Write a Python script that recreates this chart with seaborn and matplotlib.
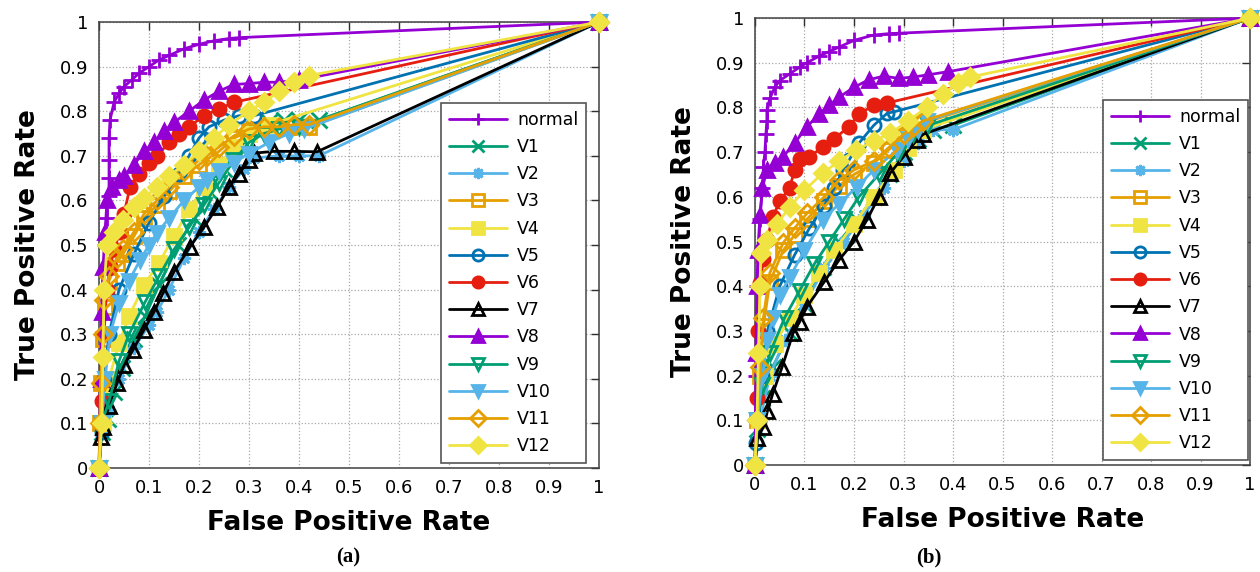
import pandas as pd
import seaborn as sns
import matplotlib.pyplot as plt

sns.set_style("white")
plt.rcParams['font.family'] = ['DejaVu Sans']
plt.rcParams['text.color'] = 'black'
plt.rcParams['axes.labelcolor'] = 'black'

# series names, colours and marker styles (gnuplot-like defaults)
series = ['normal', 'V1', 'V2', 'V3', 'V4', 'V5', 'V6', 'V7', 'V8', 'V9', 'V10', 'V11', 'V12']
colors = ['#9400D3', '#009E73', '#56B4E9', '#E69F00', '#F0E442', '#0072B2', '#E51E10',
          '#000000', '#9400D3', '#009E73', '#56B4E9', '#E69F00', '#F0E442']
markers = ['+', 'x', (8, 2, 0), 's', 's', 'o', 'o', '^', '^', 'v', 'v', 'D', 'D']
filled = [True, True, True, False, True, False, True, False, True, False, True, False, True]

ticks = [0, 0.1, 0.2, 0.3, 0.4, 0.5, 0.6, 0.7, 0.8, 0.9, 1]
tick_labels = ['0', '0.1', '0.2', '0.3', '0.4', '0.5', '0.6', '0.7', '0.8', '0.9', '1']

# ---- panel (a): (FPR, TPR) points ----
a_normal = [(0, 0), (0.005, 0.2), (0.008, 0.4), (0.012, 0.5), (0.015, 0.56), (0.02, 0.61), (0.02, 0.65),
            (0.02, 0.69), (0.02, 0.74), (0.022, 0.78), (0.03, 0.82), (0.04, 0.84), (0.05, 0.855),
            (0.065, 0.87), (0.08, 0.885), (0.1, 0.9), (0.12, 0.915), (0.14, 0.925), (0.17, 0.94),
            (0.2, 0.95), (0.23, 0.958), (0.26, 0.963), (0.28, 0.965), (1, 1)]
a_v1 = [(0, 0), (0.005, 0.08), (0.018, 0.11), (0.03, 0.17), (0.046, 0.224), (0.07, 0.29), (0.092, 0.34),
        (0.12, 0.41), (0.158, 0.5), (0.19, 0.56), (0.22, 0.62), (0.25, 0.67), (0.28, 0.72), (0.31, 0.76),
        (0.34, 0.775), (0.37, 0.78), (0.4, 0.78), (0.44, 0.78), (1, 1)]
a_v2 = [(0, 0), (0.005, 0.08), (0.02, 0.13), (0.04, 0.2), (0.07, 0.27), (0.1, 0.32), (0.116, 0.35),
        (0.14, 0.4), (0.17, 0.47), (0.2, 0.53), (0.23, 0.58), (0.26, 0.63), (0.29, 0.67), (0.31, 0.695),
        (0.36, 0.7), (0.4, 0.7), (0.44, 0.7), (1, 1)]
a_v3 = [(0, 0), (0.002, 0.1), (0.003, 0.19), (0.008, 0.29), (0.012, 0.36), (0.02, 0.42), (0.035, 0.46),
        (0.048, 0.48), (0.07, 0.52), (0.09, 0.56), (0.116, 0.59), (0.14, 0.62), (0.17, 0.655), (0.2, 0.68),
        (0.24, 0.71), (0.27, 0.74), (0.3, 0.755), (0.34, 0.76), (0.38, 0.765), (0.42, 0.765), (1, 1)]
a_v4 = [(0, 0), (0.008, 0.1), (0.02, 0.2), (0.04, 0.28), (0.06, 0.34), (0.09, 0.41), (0.12, 0.46),
        (0.15, 0.52), (0.18, 0.58), (0.21, 0.63), (0.24, 0.68), (0.27, 0.72), (0.3, 0.75), (0.34, 0.77), (1, 1)]
a_v5 = [(0, 0), (0.005, 0.08), (0.01, 0.2), (0.02, 0.3), (0.04, 0.4), (0.07, 0.48), (0.1, 0.55),
        (0.13, 0.61), (0.16, 0.66), (0.18, 0.7), (0.2, 0.74), (0.22, 0.765), (0.25, 0.78), (0.28, 0.79),
        (0.31, 0.79), (1, 1)]
a_v6 = [(0, 0), (0.005, 0.15), (0.01, 0.3), (0.015, 0.4), (0.022, 0.45), (0.03, 0.49), (0.042, 0.53),
        (0.05, 0.57), (0.062, 0.63), (0.08, 0.66), (0.1, 0.685), (0.116, 0.7), (0.14, 0.73), (0.16, 0.75),
        (0.18, 0.765), (0.21, 0.79), (0.24, 0.805), (0.27, 0.82), (1, 1)]
a_v7 = [(0, 0), (0.004, 0.07), (0.008, 0.092), (0.02, 0.14), (0.036, 0.19), (0.05, 0.23), (0.068, 0.265),
        (0.09, 0.31), (0.11, 0.35), (0.128, 0.392), (0.15, 0.44), (0.182, 0.496), (0.21, 0.54),
        (0.236, 0.585), (0.26, 0.63), (0.28, 0.66), (0.3, 0.69), (0.31, 0.706), (0.35, 0.71),
        (0.39, 0.71), (0.436, 0.709), (1, 1)]
a_v8 = [(0, 0), (0.003, 0.2), (0.005, 0.35), (0.008, 0.45), (0.012, 0.53), (0.016, 0.6), (0.025, 0.63),
        (0.04, 0.645), (0.05, 0.655), (0.07, 0.68), (0.09, 0.71), (0.11, 0.73), (0.13, 0.755),
        (0.15, 0.775), (0.18, 0.8), (0.21, 0.825), (0.24, 0.845), (0.27, 0.86), (0.3, 0.862),
        (0.33, 0.865), (0.36, 0.865), (0.4, 0.87), (1, 1)]
a_v9 = [(0, 0), (0.005, 0.1), (0.02, 0.15), (0.04, 0.24), (0.06, 0.3), (0.092, 0.372), (0.12, 0.43),
        (0.15, 0.49), (0.18, 0.54), (0.21, 0.59), (0.24, 0.64), (0.27, 0.69), (0.3, 0.73), (0.33, 0.75),
        (0.36, 0.76), (0.4, 0.765), (1, 1)]
a_v10 = [(0, 0), (0.005, 0.1), (0.012, 0.2), (0.022, 0.3), (0.04, 0.37), (0.06, 0.42), (0.082, 0.466),
         (0.1, 0.5), (0.116, 0.527), (0.14, 0.56), (0.17, 0.6), (0.2, 0.63), (0.216, 0.645), (0.24, 0.665),
         (0.27, 0.685), (0.3, 0.705), (0.34, 0.73), (0.38, 0.75), (0.41, 0.76), (1, 1)]
a_v11 = [(0, 0), (0.002, 0.1), (0.003, 0.19), (0.008, 0.3), (0.01, 0.377), (0.02, 0.43), (0.035, 0.47),
         (0.048, 0.49), (0.07, 0.53), (0.09, 0.57), (0.116, 0.6), (0.14, 0.63), (0.17, 0.665), (0.2, 0.69),
         (0.216, 0.7), (0.24, 0.72), (0.27, 0.745), (0.3, 0.76), (0.33, 0.765), (0.36, 0.765),
         (0.39, 0.77), (0.42, 0.77), (1, 1)]
a_v12 = [(0, 0), (0.005, 0.1), (0.008, 0.25), (0.01, 0.4), (0.016, 0.5), (0.03, 0.53), (0.048, 0.556),
         (0.07, 0.585), (0.09, 0.605), (0.116, 0.63), (0.14, 0.655), (0.17, 0.68), (0.2, 0.71),
         (0.23, 0.74), (0.26, 0.77), (0.3, 0.8), (0.33, 0.82), (0.36, 0.845), (0.39, 0.865), (0.42, 0.88), (1, 1)]

# ---- panel (b) ----
b_normal = [(0, 0), (0.003, 0.2), (0.005, 0.4), (0.01, 0.55), (0.015, 0.62), (0.017, 0.667), (0.02, 0.7),
            (0.022, 0.74), (0.024, 0.77), (0.024, 0.794), (0.03, 0.82), (0.04, 0.845), (0.05, 0.86),
            (0.07, 0.875), (0.09, 0.89), (0.105, 0.9), (0.13, 0.915), (0.15, 0.925), (0.17, 0.935),
            (0.2, 0.95), (0.24, 0.962), (0.27, 0.965), (0.29, 0.966), (1, 1)]
b_v1 = [(0, 0), (0.005, 0.08), (0.015, 0.15), (0.036, 0.22), (0.07, 0.295), (0.1, 0.36), (0.137, 0.443),
        (0.17, 0.5), (0.206, 0.548), (0.24, 0.6), (0.27, 0.65), (0.3, 0.7), (0.33, 0.73), (0.36, 0.75),
        (0.4, 0.76), (1, 1)]
b_v2 = [(0, 0), (0.01, 0.1), (0.03, 0.2), (0.06, 0.28), (0.1, 0.36), (0.14, 0.44), (0.18, 0.5),
        (0.22, 0.56), (0.26, 0.62), (0.3, 0.68), (0.33, 0.72), (0.36, 0.75), (0.4, 0.75), (1, 1)]
b_v3 = [(0, 0), (0.004, 0.1), (0.01, 0.2), (0.017, 0.31), (0.03, 0.41), (0.057, 0.48), (0.08, 0.515),
        (0.105, 0.55), (0.14, 0.59), (0.17, 0.625), (0.2, 0.65), (0.24, 0.675), (0.27, 0.705),
        (0.3, 0.735), (0.32, 0.75), (0.34, 0.765), (1, 1)]
b_v4 = [(0, 0), (0.008, 0.1), (0.02, 0.2), (0.04, 0.27), (0.07, 0.33), (0.1, 0.38), (0.13, 0.43),
        (0.16, 0.48), (0.2, 0.54), (0.24, 0.6), (0.28, 0.66), (0.31, 0.71), (0.34, 0.75), (1, 1)]
b_v5 = [(0, 0), (0.003, 0.05), (0.008, 0.1), (0.015, 0.2), (0.025, 0.3), (0.05, 0.4), (0.08, 0.47),
        (0.11, 0.53), (0.14, 0.58), (0.16, 0.62), (0.178, 0.66), (0.19, 0.682), (0.21, 0.72),
        (0.24, 0.76), (0.267, 0.787), (0.28, 0.79), (1, 1)]
b_v6 = [(0, 0), (0.004, 0.15), (0.007, 0.3), (0.01, 0.407), (0.017, 0.46), (0.024, 0.503), (0.036, 0.555),
        (0.05, 0.59), (0.07, 0.62), (0.08, 0.66), (0.09, 0.685), (0.11, 0.69), (0.137, 0.711),
        (0.16, 0.73), (0.19, 0.757), (0.21, 0.785), (0.24, 0.805), (0.267, 0.81), (1, 1)]
b_v7 = [(0, 0), (0.005, 0.06), (0.017, 0.085), (0.025, 0.12), (0.036, 0.16), (0.055, 0.22), (0.077, 0.295),
        (0.09, 0.32), (0.105, 0.354), (0.14, 0.41), (0.17, 0.459), (0.2, 0.5), (0.226, 0.548),
        (0.25, 0.6), (0.273, 0.653), (0.3, 0.69), (0.327, 0.727), (0.34, 0.74), (1, 1)]
b_v8 = [(0, 0), (0.002, 0.25), (0.004, 0.4), (0.006, 0.48), (0.01, 0.56), (0.015, 0.62), (0.024, 0.66),
        (0.04, 0.675), (0.057, 0.69), (0.08, 0.72), (0.105, 0.757), (0.13, 0.785), (0.15, 0.805),
        (0.17, 0.823), (0.2, 0.845), (0.23, 0.862), (0.26, 0.87), (0.29, 0.865), (0.32, 0.868),
        (0.35, 0.873), (0.39, 0.88), (1, 1)]
b_v9 = [(0, 0), (0.005, 0.1), (0.015, 0.18), (0.03, 0.25), (0.06, 0.33), (0.09, 0.39), (0.12, 0.45),
        (0.15, 0.5), (0.18, 0.55), (0.21, 0.6), (0.25, 0.65), (0.29, 0.7), (0.32, 0.74), (0.35, 0.76), (1, 1)]
b_v10 = [(0, 0), (0.005, 0.1), (0.015, 0.2), (0.025, 0.28), (0.036, 0.33), (0.05, 0.38), (0.07, 0.42),
         (0.1, 0.48), (0.137, 0.548), (0.17, 0.585), (0.206, 0.622), (0.24, 0.66), (0.287, 0.705),
         (0.31, 0.73), (0.33, 0.75), (0.347, 0.77), (1, 1)]
b_v11 = [(0, 0), (0.004, 0.1), (0.01, 0.22), (0.017, 0.33), (0.03, 0.43), (0.057, 0.497), (0.08, 0.53),
         (0.105, 0.563), (0.14, 0.6), (0.17, 0.638), (0.2, 0.66), (0.24, 0.68), (0.27, 0.71),
         (0.3, 0.74), (0.32, 0.757), (0.34, 0.77), (1, 1)]
b_v12 = [(0, 0), (0.004, 0.1), (0.007, 0.25), (0.01, 0.4), (0.012, 0.474), (0.024, 0.503), (0.045, 0.54),
         (0.07, 0.577), (0.1, 0.615), (0.137, 0.653), (0.17, 0.68), (0.205, 0.705), (0.24, 0.725),
         (0.273, 0.742), (0.31, 0.77), (0.347, 0.8), (0.38, 0.83), (0.41, 0.855), (0.435, 0.868), (1, 1)]

curves_a = [a_normal, a_v1, a_v2, a_v3, a_v4, a_v5, a_v6, a_v7, a_v8, a_v9, a_v10, a_v11, a_v12]
curves_b = [b_normal, b_v1, b_v2, b_v3, b_v4, b_v5, b_v6, b_v7, b_v8, b_v9, b_v10, b_v11, b_v12]


def draw_panel(ax, curves, anchor):
    for name, pts, c, m, f in zip(series, curves, colors, markers, filled):
        df = pd.DataFrame(pts, columns=['fpr', 'tpr'])
        ms = 11 if m in ('+', 'x') else 9.5
        sns.lineplot(data=df, x='fpr', y='tpr', ax=ax, sort=False, estimator=None, legend=False,
                     color=c, linewidth=2.0, marker=m, markersize=ms,
                     markerfacecolor=c if f else 'none', markeredgecolor=c, markeredgewidth=2.0,
                     label=name, clip_on=False, zorder=3)
    ax.set_xlim(0, 1)
    ax.set_ylim(0, 1)
    ax.set_xticks(ticks, tick_labels)
    ax.set_yticks(ticks, tick_labels)
    ax.tick_params(direction='in', top=True, right=True, length=6, width=1, pad=8,
                   labelsize=13, color='#303030', labelcolor='black')
    ax.grid(True, linestyle=':', color='#a8a8a8', linewidth=0.9)
    ax.set_axisbelow(True)
    for sp in ax.spines.values():
        sp.set_color('#404040')
        sp.set_linewidth(1.1)
    ax.set_xlabel('False Positive Rate', fontsize=19, fontweight='bold', labelpad=9, color='black')
    ax.set_ylabel('True Positive Rate', fontsize=19, fontweight='bold', labelpad=13, color='black')
    leg = ax.legend(loc='lower right', bbox_to_anchor=anchor, borderaxespad=0, fontsize=12.5,
                    fancybox=False, edgecolor='#555555', framealpha=1, handlelength=3.3,
                    handletextpad=0.6, labelspacing=0.53, borderpad=0.45, numpoints=1,
                    markerscale=0.85)
    leg.get_frame().set_linewidth(1.2)
    leg.set_zorder(5)


fig = plt.figure(figsize=(12.6, 5.72), dpi=100)
ax_a = fig.add_axes([0.0786, 0.1818, 0.3968, 0.7797])
ax_b = fig.add_axes([0.5992, 0.187, 0.3929, 0.7815])

draw_panel(ax_a, curves_a, (0.974, 0.011))
draw_panel(ax_b, curves_b, (0.996, 0.011))

fig.text(0.276, 0.016, '(a)', family='Liberation Serif', fontweight='bold', fontsize=15, ha='center')
fig.text(0.737, 0.016, '(b)', family='Liberation Serif', fontweight='bold', fontsize=15, ha='center')

fig.savefig('out.png', dpi=100)
